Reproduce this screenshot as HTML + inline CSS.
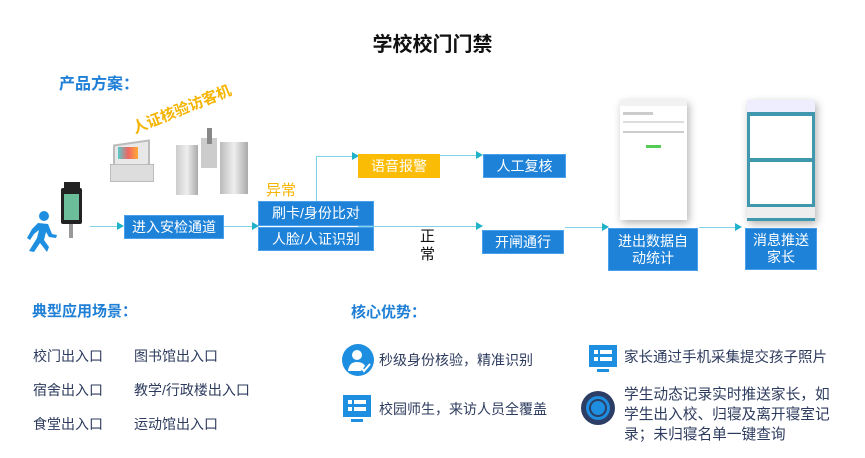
<!DOCTYPE html>
<html><head><meta charset="utf-8"><style>
body{margin:0;width:865px;height:458px;background:#fff;position:relative;overflow:hidden;font-family:"Liberation Sans","Noto Sans CJK SC",sans-serif}
.a{position:absolute;white-space:nowrap}
.box{position:absolute;background:#1e82d9;color:#fff;font-size:14px;display:flex;align-items:center;justify-content:center;text-align:center;line-height:17px;border:1px solid #4aa0ea;box-sizing:border-box}
.h{color:#1f7fd6;font-weight:bold;font-size:15px}
.t{color:#2d3b5e;font-size:14px}
.ln{position:absolute;background:#7fd3e3}
.ar{position:absolute;width:0;height:0;border-top:4px solid transparent;border-bottom:4px solid transparent;border-left:7px solid #1fb2c9}
</style></head><body>
<div class="a" style="left:0;width:865px;text-align:center;top:28px;font-size:20px;font-weight:bold;color:#111">学校校门门禁</div>
<div class="a h" style="left:59px;top:70px;font-size:16px">产品方案：</div>
<div class="a" style="left:133px;top:118px;color:#f5b400;font-size:15px;font-weight:bold;transform:rotate(-22deg);transform-origin:left center">人证核验访客机</div>
<!-- kiosk -->
<div class="a" style="left:113px;top:142px;width:33px;height:22px;background:#e8e8e8;border:2px solid #bbb;transform:skewY(-8deg)"></div>
<div class="a" style="left:118px;top:147px;width:20px;height:12px;background:linear-gradient(90deg,#5cc 0,#e66 50%,#fa3 100%)"></div>
<div class="a" style="left:110px;top:164px;width:42px;height:16px;background:#ddd;border:1px solid #bbb"></div>
<!-- gate -->
<div class="a" style="left:176px;top:145px;width:22px;height:50px;background:linear-gradient(90deg,#ccc,#eee,#aaa)"></div>
<div class="a" style="left:201px;top:138px;width:16px;height:30px;background:#ccc"></div>
<div class="a" style="left:220px;top:142px;width:28px;height:52px;background:linear-gradient(90deg,#bbb,#eee,#aaa)"></div>
<div class="a" style="left:207px;top:128px;width:5px;height:16px;background:#888"></div>
<!-- terminal -->
<div class="a" style="left:64px;top:182px;width:16px;height:6px;background:#222"></div>
<div class="a" style="left:61px;top:188px;width:21px;height:36px;background:#222;border-radius:2px"></div>
<div class="a" style="left:64px;top:194px;width:15px;height:26px;background:#6cbd9a"></div>
<div class="a" style="left:69px;top:224px;width:4px;height:14px;background:#999"></div>
<!-- person -->
<svg class="a" style="left:20px;top:210px" width="38" height="44" viewBox="0 0 38 44"><circle cx="24" cy="6" r="5" fill="#1e8fe0"/><path d="M18 13 L28 14 L32 24 L37 25 L36 28 L29 27 L26 22 L24 30 L29 37 L27 42 L20 33 L14 42 L9 41 L17 28 L19 20 L14 24 L10 30 L7 28 L12 19 Z" fill="#1e8fe0"/></svg>
<!-- lines -->
<div class="ln" style="left:90px;top:226px;width:30px;height:1px"></div><div class="ar" style="left:117px;top:222px"></div>
<div class="box" style="left:124px;top:215px;width:100px;height:24px">进入安检通道</div>
<div class="ln" style="left:224px;top:226px;width:30px;height:1px"></div><div class="ar" style="left:252px;top:222px"></div>
<div class="box" style="left:258px;top:201px;width:116px;height:25px">刷卡/身份比对</div>
<div class="box" style="left:258px;top:227px;width:116px;height:24px">人脸/人证识别</div>
<div class="a" style="left:266px;top:179px;color:#f5b400;font-size:15px">异常</div>
<div class="ln" style="left:316px;top:156px;width:1px;height:45px"></div>
<div class="ln" style="left:316px;top:156px;width:38px;height:1px"></div><div class="ar" style="left:352px;top:152px"></div>
<div class="box" style="left:358px;top:154px;width:82px;height:24px;background:#fbbc05;border-color:#fbbc05">语音报警</div>
<div class="ln" style="left:440px;top:155px;width:38px;height:1px"></div><div class="ar" style="left:476px;top:151px"></div>
<div class="box" style="left:483px;top:154px;width:83px;height:24px">人工复核</div>
<div class="ln" style="left:358px;top:226px;width:120px;height:1px"></div><div class="ar" style="left:476px;top:222px"></div>
<div class="a" style="left:420px;top:228px;font-size:15px;line-height:18px;color:#111;white-space:normal;width:16px">正常</div>
<div class="box" style="left:482px;top:230px;width:82px;height:24px">开闸通行</div>
<div class="ln" style="left:565px;top:227px;width:40px;height:1px"></div><div class="ar" style="left:602px;top:223px"></div>
<div class="box" style="left:608px;top:228px;width:90px;height:43px">进出数据自<br>动统计</div>
<div class="ln" style="left:699px;top:227px;width:38px;height:1px"></div><div class="ar" style="left:735px;top:223px"></div>
<div class="box" style="left:745px;top:228px;width:72px;height:42px">消息推送<br>家长</div>
<!-- phones -->
<div class="a" style="left:620px;top:100px;width:67px;height:120px;background:#fff;box-shadow:2px 3px 8px rgba(0,0,0,.3)">
<div style="height:6px;background:#f2f2f2"></div>
<div style="margin:6px 3px;height:3px;background:#ccc;width:30px"></div>
<div style="margin:4px 3px;height:2px;background:#ddd"></div>
<div style="margin:8px 3px;height:2px;background:#ccc"></div>
<div style="margin:12px 26px;height:3px;background:#5c5"></div></div>
<div class="a" style="left:747px;top:100px;width:68px;height:121px;background:#3f98ad;box-shadow:2px 3px 8px rgba(0,0,0,.3)">
<div style="height:12px;background:#eef"></div>
<div style="margin:4px 3px;height:42px;background:#fff"></div>
<div style="margin:3px 3px;height:42px;background:#fff"></div>
<div style="height:11px;background:#eee;margin-top:3px"></div></div>
<!-- bottom left -->
<div class="a h" style="left:32px;top:300px">典型应用场景：</div>
<div class="a t" style="left:33px;top:346px">校门出入口</div><div class="a t" style="left:134px;top:346px">图书馆出入口</div>
<div class="a t" style="left:33px;top:380px">宿舍出入口</div><div class="a t" style="left:134px;top:380px">教学/行政楼出入口</div>
<div class="a t" style="left:33px;top:414px">食堂出入口</div><div class="a t" style="left:134px;top:414px">运动馆出入口</div>
<!-- core -->
<div class="a h" style="left:351px;top:301px">核心优势：</div>
<svg class="a" style="left:341px;top:343px" width="34" height="34"><circle cx="17" cy="17" r="16" fill="#1e8fe0"/><circle cx="16" cy="12" r="5" fill="#fff"/><path d="M7 28 Q8 19 16 19 Q22 19 24 23 L20 28 Z" fill="#fff"/><path d="M20 24 L23 28 L29 21" stroke="#fff" stroke-width="2" fill="none"/></svg>
<div class="a t" style="left:379px;top:350px">秒级身份核验，精准识别</div>
<svg class="a" style="left:342px;top:394px" width="30" height="30"><rect x="1" y="1" width="28" height="22" fill="#1e8fe0"/><rect x="6" y="6" width="4" height="4" fill="#fff"/><rect x="12" y="6" width="12" height="4" fill="#fff"/><rect x="6" y="13" width="4" height="4" fill="#fff"/><rect x="12" y="13" width="12" height="4" fill="#fff"/><rect x="9" y="25" width="12" height="3" fill="#1e8fe0"/></svg>
<div class="a t" style="left:379px;top:399px">校园师生，来访人员全覆盖</div>
<svg class="a" style="left:588px;top:344px" width="30" height="30"><rect x="1" y="1" width="28" height="22" fill="#1e8fe0"/><rect x="6" y="6" width="4" height="4" fill="#fff"/><rect x="12" y="6" width="12" height="4" fill="#fff"/><rect x="6" y="13" width="4" height="4" fill="#fff"/><rect x="12" y="13" width="12" height="4" fill="#fff"/><rect x="9" y="25" width="12" height="3" fill="#1e8fe0"/></svg>
<div class="a t" style="left:624px;top:346px;font-size:14.5px">家长通过手机采集提交孩子照片</div>
<svg class="a" style="left:580px;top:390px" width="36" height="36"><circle cx="18" cy="18" r="17" fill="#2c3e66"/><circle cx="18" cy="18" r="12" fill="#1e8fe0"/><circle cx="18" cy="18" r="9" fill="#2c3e66"/><circle cx="18" cy="18" r="7" fill="#1e8fe0"/></svg>
<div class="a t" style="left:624px;top:385px;line-height:20px;font-size:14.7px">学生动态记录实时推送家长，如<br>学生出入校、归寝及离开寝室记<br>录；未归寝名单一键查询</div>
</body></html>
